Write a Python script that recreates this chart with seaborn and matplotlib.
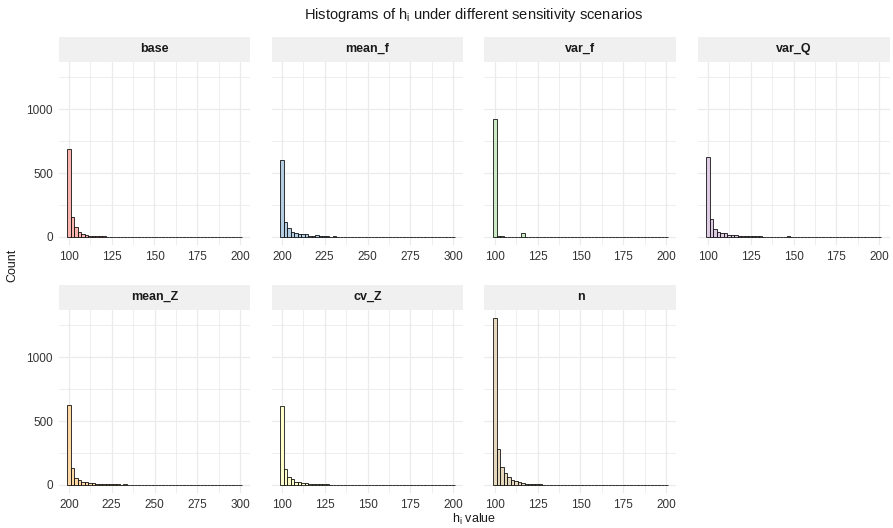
import numpy as np
import pandas as pd
import matplotlib
matplotlib.use("Agg")
import matplotlib.pyplot as plt
from matplotlib.patches import Rectangle
from matplotlib.ticker import MultipleLocator
import seaborn as sns

# ---------------- data (bin counts, 50 bins each) ----------------
scenarios = ["base", "mean_f", "var_f", "var_Q", "mean_Z", "cv_Z", "n"]
x_min = [100, 200, 100, 100, 200, 100, 100]
x_max = [200, 300, 200, 200, 300, 200, 200]

base = [688, 159, 78, 36, 24, 16, 11, 8, 6, 5, 4, 3, 3, 2, 2, 2, 1, 1, 1, 1,
        1, 1, 0, 1, 0, 0, 1, 0, 0, 0, 0, 1, 0, 0, 0, 0, 0, 0, 1, 0,
        0, 0, 0, 0, 0, 0, 0, 0, 0, 1]
mean_f = [604, 120, 68, 37, 29, 22, 20, 20, 8, 6, 12, 5, 4, 4, 3, 5, 3, 3, 2, 2,
          3, 2, 2, 1, 2, 2, 1, 1, 1, 1, 3, 1, 1, 1, 1, 0, 1, 0, 0, 1,
          0, 0, 0, 0, 0, 0, 0, 0, 0, 1]
var_f = [923, 4, 5, 2, 1, 1, 2, 3, 28, 0, 0, 0, 0, 0, 0, 0, 0, 0, 0, 0,
         0, 0, 0, 0, 0, 0, 0, 0, 0, 0, 0, 0, 0, 0, 0, 0, 0, 0, 0, 0,
         0, 0, 0, 0, 0, 0, 0, 0, 0, 1]
var_Q = [625, 139, 60, 37, 29, 28, 14, 13, 12, 8, 8, 6, 7, 5, 4, 4, 3, 3, 3, 2,
         3, 2, 2, 4, 1, 1, 1, 1, 0, 1, 0, 1, 0, 0, 0, 0, 0, 0, 0, 0,
         0, 0, 0, 0, 0, 0, 0, 0, 0, 1]
mean_Z = [627, 136, 57, 37, 27, 26, 13, 12, 8, 8, 7, 6, 5, 5, 4, 3, 4, 2, 3, 2,
          2, 2, 2, 1, 1, 2, 1, 1, 0, 1, 1, 0, 1, 0, 0, 0, 1, 0, 0, 0,
          0, 0, 0, 0, 0, 0, 0, 0, 0, 1]
cv_Z = [614, 123, 63, 45, 24, 21, 16, 12, 10, 8, 7, 6, 5, 4, 3, 3, 3, 2, 2, 2,
        1, 1, 1, 1, 1, 0, 1, 0, 1, 0, 0, 0, 1, 0, 0, 0, 0, 0, 0, 0,
        0, 0, 0, 0, 0, 0, 0, 0, 0, 1]
n_counts = [1305, 282, 144, 92, 60, 42, 30, 22, 15, 10, 8, 6, 5, 4, 3, 3, 2, 2, 2, 1,
            1, 1, 1, 1, 0, 1, 0, 0, 1, 0, 0, 0, 0, 0, 0, 0, 0, 0, 0, 0,
            0, 0, 0, 0, 0, 0, 0, 0, 0, 1]
counts = [base, mean_f, var_f, var_Q, mean_Z, cv_Z, n_counts]

colors = ["#FBB4AE", "#B3CDE3", "#CCEBC5", "#DECBE4", "#FED9A6", "#FFFFCC", "#E5D8BD"]
y_ticks = [0, 500, 1000]

# ---------------- style ----------------
sns.set_theme(style="white")
plt.rcParams["font.family"] = ["Liberation Sans", "DejaVu Sans"]
plt.rcParams["mathtext.default"] = "regular"

W, H = 893, 528
fig = plt.figure(figsize=(W / 100, H / 100), dpi=100)
fig.patch.set_facecolor("white")

col_left = [58.5, 271.5, 484.5, 697.5]
pw = 192.0
rows = [(61.7, 245.3), (309.7, 493.3)]
strip_h = 25.0

ymax_all = max(max(c) for c in counts)
grid_c = "#EBEBEB"
text_c = "#333333"

for i, name in enumerate(scenarios):
    r, c = divmod(i, 4)
    top, bot = rows[r]
    ax = fig.add_axes([col_left[c] / W, 1 - bot / H, pw / W, (bot - top) / H])
    nb = len(counts[i])
    bw = (x_max[i] - x_min[i]) / (nb - 1)
    edges = x_min[i] - bw / 2 + bw * np.arange(nb + 1)
    centers = x_min[i] + bw * np.arange(nb)
    df = pd.DataFrame({"h": centers, "count": np.asarray(counts[i], dtype=float)})
    sns.histplot(data=df, x="h", weights="count", bins=edges.tolist(), ax=ax,
                 color=colors[i], edgecolor="black", linewidth=0.55, alpha=1.0)
    span = edges[-1] - edges[0]
    ax.set_xlim(edges[0] - 0.05 * span, edges[-1] + 0.05 * span)
    ax.set_ylim(-0.05 * ymax_all, 1.05 * ymax_all)
    ax.xaxis.set_major_locator(MultipleLocator(25))
    ax.xaxis.set_minor_locator(MultipleLocator(12.5))
    ax.set_yticks(y_ticks)
    ax.yaxis.set_minor_locator(MultipleLocator(250))
    ax.grid(which="major", color=grid_c, lw=0.9)
    ax.grid(which="minor", color=grid_c, lw=0.6)
    ax.set_axisbelow(True)
    for s in ax.spines.values():
        s.set_visible(False)
    ax.tick_params(which="both", length=0, labelsize=8.5, labelcolor=text_c, pad=4)
    if c != 0:
        ax.tick_params(axis="y", labelleft=False)
    ax.set_xlabel("")
    ax.set_ylabel("")
    ph = bot - top
    ax.add_patch(Rectangle((0, 1), 1, strip_h / ph, transform=ax.transAxes,
                           facecolor="#F0F0F0", edgecolor="none", clip_on=False))
    ax.text(0.5, 1 + (strip_h / 2) / ph, name, transform=ax.transAxes,
            ha="center", va="center", fontsize=9, fontweight="bold", color="#1A1A1A")

fig.text(474 / W, 1 - 15 / H, "Histograms of h$_i$ under different sensitivity scenarios",
         ha="center", va="center", fontsize=10.5, color="#1A1A1A")
fig.text(12 / W, 1 - 265 / H, "Count", rotation=90, ha="center", va="center",
         fontsize=9, color="#1A1A1A")
fig.text(474 / W, 1 - 519 / H, "h$_i$ value", ha="center", va="center",
         fontsize=9, color="#1A1A1A")

fig.savefig("out.png", dpi=100)
